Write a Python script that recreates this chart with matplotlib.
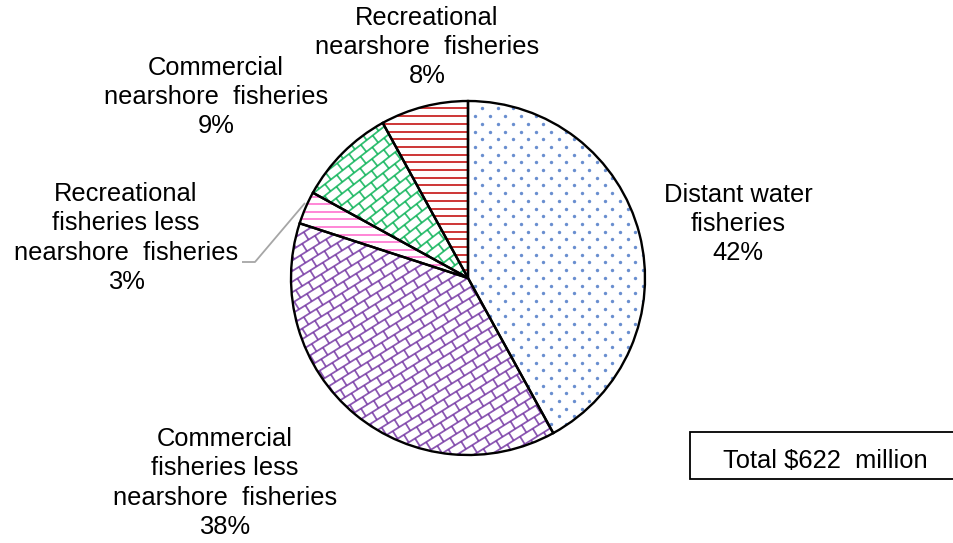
import numpy as np
import matplotlib
matplotlib.use("Agg")
import matplotlib.pyplot as plt
from matplotlib.collections import LineCollection
from matplotlib.patches import Wedge, Rectangle

plt.rcParams['font.family'] = ['Liberation Sans', 'DejaVu Sans']

categories = [
    "Distant water\nfisheries",
    "Commercial\nfisheries less\nnearshore  fisheries",
    "Recreational\nfisheries less\nnearshore  fisheries",
    "Commercial\nnearshore  fisheries",
    "Recreational\nnearshore  fisheries",
]
shares = [42, 38, 3, 9, 8]
pattern_colors = ["#4472C4", "#7030A0", "#FF66CC", "#00B050", "#C00000"]
total_text = "Total $622  million"

W, H = 954, 543
fig = plt.figure(figsize=(W / 100, H / 100), dpi=100)
ax = fig.add_axes([0, 0, 1, 1])

cx, cy, R = 468, H - 278, 177
wedges, _ = ax.pie(shares, center=(cx, cy), radius=R, startangle=90,
                   counterclock=False,
                   wedgeprops=dict(facecolor="white", edgecolor="none"))
ax.set_xlim(0, W)
ax.set_ylim(0, H)
ax.set_aspect("equal")
ax.axis("off")


def hlines(wedge, color, step):
    segs = [[(cx - R, y), (cx + R, y)] for y in np.arange(cy - R, cy + R, step)]
    lc = LineCollection(segs, colors=color, linewidths=1.3, alpha=0.85)
    lc.set_clip_path(wedge)
    ax.add_collection(lc)


def dots(wedge, color, dx, dy):
    pts = []
    for i, y in enumerate(np.arange(cy - R, cy + R, dy)):
        off = (dx / 2) * (i % 2)
        for x in np.arange(cx - R + off, cx + R, dx):
            pts.append((x, y))
    pts = np.array(pts)
    sc = ax.scatter(pts[:, 0], pts[:, 1], s=6, color=color, alpha=0.8,
                    linewidths=0)
    sc.set_clip_path(wedge)


def bricks(wedge, color, angle, gap, length):
    a = np.deg2rad(angle)
    d = np.array([np.cos(a), np.sin(a)])
    n = np.array([-np.sin(a), np.cos(a)])
    c = np.array([cx, cy])
    segs = []
    ks = np.arange(-int(R / gap) - 2, int(R / gap) + 2)
    for k in ks:
        v = k * gap
        segs.append([c + n * v - d * R * 1.2, c + n * v + d * R * 1.2])
        off = (length / 2) * (k % 2)
        for u in np.arange(-R * 1.2 + off, R * 1.2, length):
            segs.append([c + d * u + n * v, c + d * u + n * (v + gap)])
    lc = LineCollection(segs, colors=color, linewidths=1.3, alpha=0.8)
    lc.set_clip_path(wedge)
    ax.add_collection(lc)


dots(wedges[0], pattern_colors[0], 15.3, 7.7)
bricks(wedges[1], pattern_colors[1], 32, 9, 15)
hlines(wedges[2], pattern_colors[2], 7.6)
bricks(wedges[3], pattern_colors[3], 38, 9, 15)
hlines(wedges[4], pattern_colors[4], 7.7)

# outlines on top of the fill patterns
for w in wedges:
    ax.add_patch(Wedge((cx, cy), R, w.theta1, w.theta2,
                       facecolor="none", edgecolor="black",
                       linewidth=1.7, zorder=5))

label_pos = [(738, 224), (225, 483), (126, 238), (216, 97), (427, 47)]
fs = 18.4
for name, share, (lx, ly) in zip(categories, shares, label_pos):
    ax.text(lx, H - ly, f"{name}\n{share}%", ha="center", va="center",
            fontsize=fs, linespacing=1.28, color="black")

# leader line for the small slice
ax.plot([242, 255, 305], [H - 262, H - 262, H - 203], color="#A6A6A6",
        linewidth=1.3, solid_capstyle="butt")

# total box
ax.add_patch(Rectangle((690, H - 479), 300, 47, facecolor="white",
                       edgecolor="black", linewidth=1.3))
ax.text(825, H - 461, total_text, ha="center", va="center", fontsize=fs)

fig.savefig("out.png", dpi=100)
